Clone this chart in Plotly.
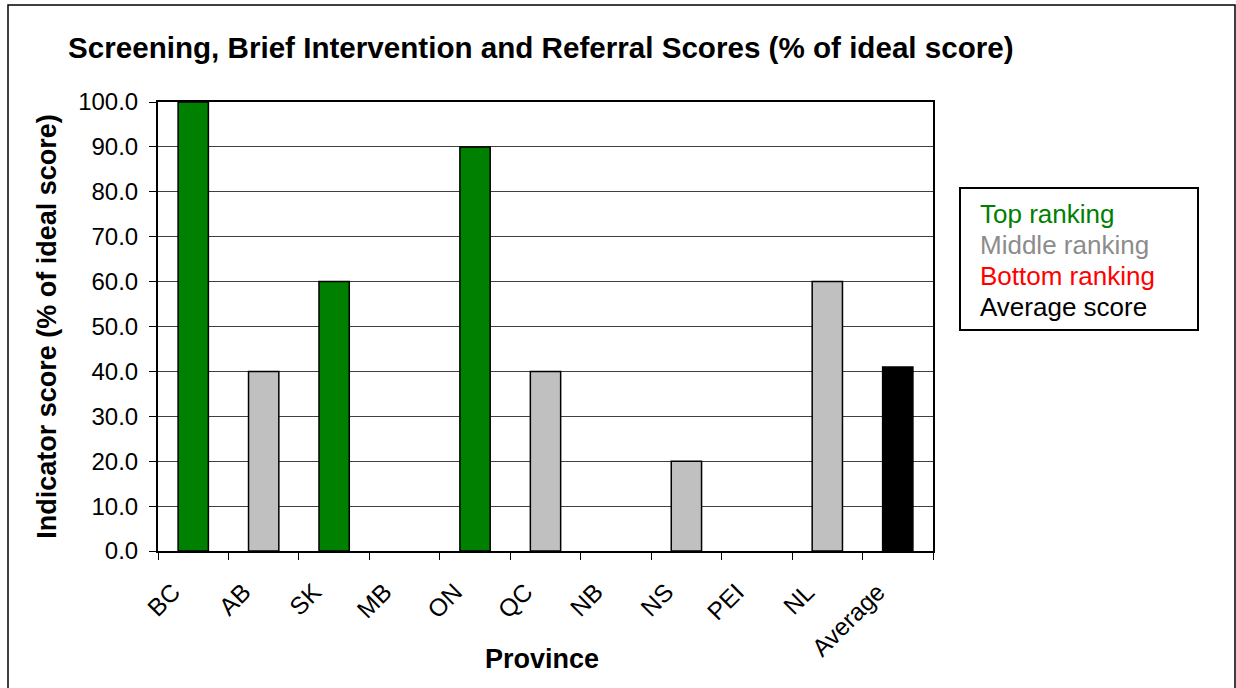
import plotly.graph_objects as go

provinces = ["BC", "AB", "SK", "MB", "ON", "QC", "NB", "NS", "PEI", "NL", "Average"]
scores = [100.0, 40.0, 60.0, 0.0, 90.0, 40.0, 0.0, 20.0, 0.0, 60.0, 41.0]
rankings = ["Top", "Middle", "Top", "Bottom", "Top", "Middle", "Bottom", "Middle", "Bottom", "Middle", "Average"]

rank_colors = {"Top": "#008000", "Middle": "#C0C0C0", "Bottom": "#FF0000", "Average": "#000000"}
legend_labels = ["Top ranking", "Middle ranking", "Bottom ranking", "Average score"]
legend_colors = ["#008000", "#8C8C8C", "#FF0000", "#000000"]

title_text = "Screening, Brief Intervention and Referral Scores (% of ideal score)"
x_title = "Province"
y_title = "Indicator score (% of ideal score)"

font_family = "Liberation Sans, Arial, sans-serif"
W, H = 1236, 688

fig = go.Figure()
fig.add_trace(go.Bar(
    x=provinces,
    y=scores,
    marker=dict(color=[rank_colors[r] for r in rankings],
                line=dict(color="#000000", width=[1.5 if s > 0 else 0 for s in scores])),
    width=0.43,
    showlegend=False,
))

fig.update_layout(
    width=W, height=H,
    margin=dict(l=0, r=0, t=0, b=0, autoexpand=False),
    paper_bgcolor="white", plot_bgcolor="white",
    font=dict(family=font_family, color="black"),
    title=dict(text="<b>" + title_text + "</b>", x=68 / W, xanchor="left",
               y=1 - 48 / H, yanchor="middle",
               font=dict(size=29.6, family=font_family, color="black")),
    xaxis=dict(domain=[158 / W, 933 / W], tickangle=-45, automargin=False,
               tickfont=dict(size=24.5), ticks="outside", tickson="boundaries",
               ticklen=7, tickcolor="black", showline=True, linecolor="black",
               linewidth=2, mirror=True, showgrid=False,
               ticklabelshift=-20, ticklabelstandoff=15),
    yaxis=dict(domain=[1 - 551 / H, 1 - 102 / H], range=[0, 100], dtick=10,
               automargin=False,
               tickformat=".1f", tickfont=dict(size=24), ticks="outside", ticklen=7,
               tickcolor="black", showline=True, linecolor="black", linewidth=2,
               mirror=True, showgrid=True, gridcolor="#404040", gridwidth=1,
               zeroline=False, ticklabelstandoff=6,
               title=dict(text="<b>" + y_title + "</b>", font=dict(size=27), standoff=14)),
)

# X axis title placed as in the reference (overlapping the label band)
fig.add_annotation(text="<b>" + x_title + "</b>", xref="paper", yref="paper",
                   x=542 / W, y=1 - 659 / H, xanchor="center", yanchor="middle",
                   showarrow=False, font=dict(size=27, color="black", family=font_family))

# Outer chart border (extends past the bottom edge as in the reference crop)
fig.add_shape(type="rect", xref="paper", yref="paper", x0=8 / W, x1=1235 / W,
              y0=-0.05, y1=1 - 5 / H, line=dict(color="black", width=1.5))

# Legend box (text only, as in the reference)
fig.add_shape(type="rect", xref="paper", yref="paper", x0=960 / W, x1=1198 / W,
              y0=1 - 330 / H, y1=1 - 188 / H, line=dict(color="black", width=2),
              fillcolor="white")
for i, (lab, col) in enumerate(zip(legend_labels, legend_colors)):
    fig.add_annotation(text=lab, xref="paper", yref="paper", x=978 / W,
                       y=1 - (214 + 31 * i) / H, xanchor="left", yanchor="middle",
                       showarrow=False, font=dict(size=26, color=col, family=font_family))

fig.write_html("out.html", config={"displayModeBar": False},
               post_script="document.body.style.margin='0';")
